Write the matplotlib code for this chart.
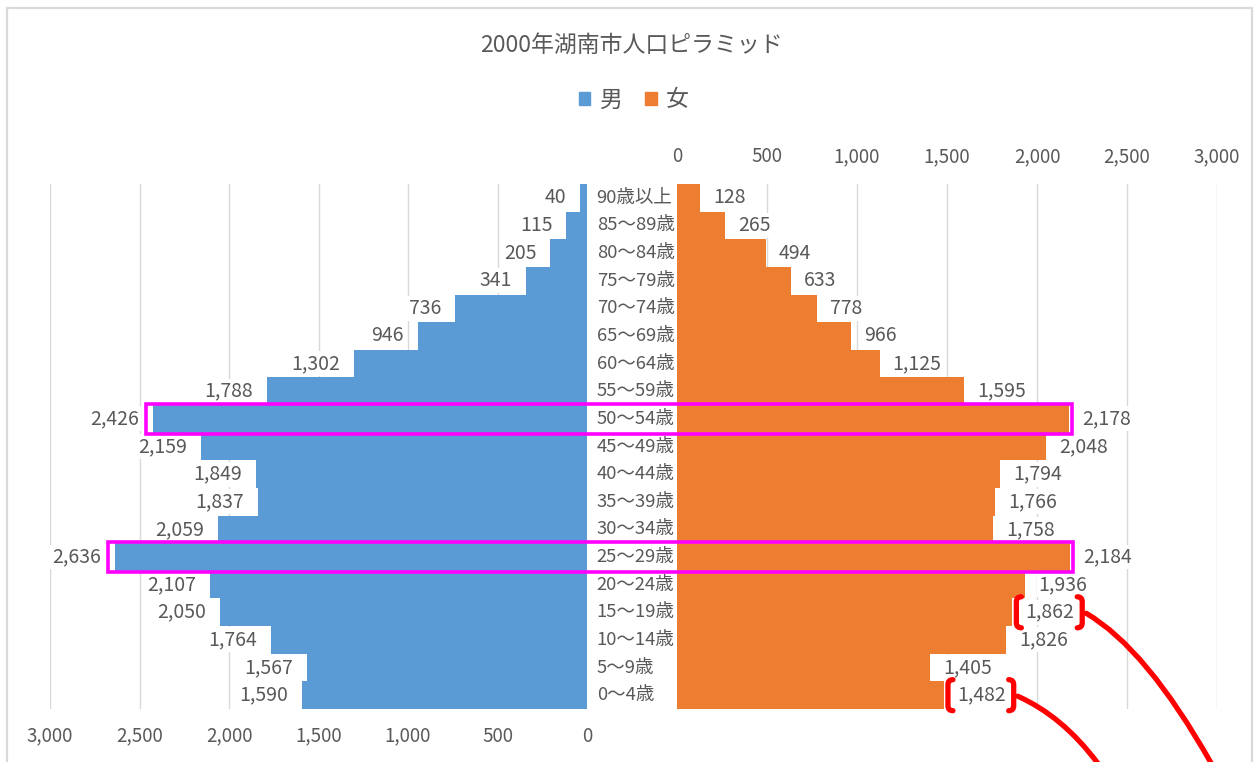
import matplotlib
matplotlib.use('Agg')
import matplotlib.pyplot as plt
from matplotlib.patches import Rectangle, Patch, PathPatch
from matplotlib.path import Path
from matplotlib.ticker import FuncFormatter

plt.rcParams['font.family'] = ['Noto Sans CJK JP', 'DejaVu Sans']

# 年齢階級（下から上へ）
ages = ['0～4歳', '5～9歳', '10～14歳', '15～19歳', '20～24歳', '25～29歳',
        '30～34歳', '35～39歳', '40～44歳', '45～49歳', '50～54歳', '55～59歳',
        '60～64歳', '65～69歳', '70～74歳', '75～79歳', '80～84歳', '85～89歳',
        '90歳以上']
male = [1590, 1567, 1764, 2050, 2107, 2636, 2059, 1837, 1849, 2159,
        2426, 1788, 1302, 946, 736, 341, 205, 115, 40]
female = [1482, 1405, 1826, 1862, 1936, 2184, 1758, 1766, 1794, 2048,
          2178, 1595, 1125, 966, 778, 633, 494, 265, 128]
ticks = [0, 500, 1000, 1500, 2000, 2500, 3000]

boxed_rows = ['50～54歳', '25～29歳']
bracket_rows = ['15～19歳', '0～4歳']

BLUE = '#5B9BD5'
ORANGE = '#ED7D31'
TXT = '#595959'
GRID = '#D9D9D9'
W, H = 1255, 762

fig = plt.figure(figsize=(W / 100, H / 100), dpi=100)
fig.patch.set_facecolor('white')

bottom = 1 - 709 / H
height = (709 - 184) / H
ax_m = fig.add_axes([50 / W, bottom, (587 - 50) / W, height])
ax_f = fig.add_axes([677 / W, bottom, (1217 - 677) / W, height])

comma = FuncFormatter(lambda v, p: f'{int(v):,}')
y = list(range(len(ages)))

for ax, vals, col in [(ax_m, male, BLUE), (ax_f, female, ORANGE)]:
    ax.barh(y, vals, height=1.0, color=col, linewidth=0, zorder=2)
    ax.set_ylim(-0.5, len(ages) - 0.5)
    ax.set_xlim(0, 3000)
    ax.set_xticks(ticks)
    ax.xaxis.set_major_formatter(comma)
    ax.set_yticks([])
    ax.grid(axis='x', color=GRID, linewidth=1, zorder=0)
    ax.tick_params(axis='x', length=0, pad=12, labelsize=13.5, labelcolor=TXT)
    for s in ax.spines.values():
        s.set_visible(False)
    ax.set_facecolor('none')

ax_m.invert_xaxis()
ax_f.xaxis.tick_top()

label_box = dict(boxstyle='square,pad=0.1', fc='white', ec='none')
f_labels = {}
for i, (m, f) in enumerate(zip(male, female)):
    ax_m.annotate(f'{m:,}', xy=(m, i), xytext=(-10, 0), textcoords='offset points',
                  ha='right', va='center', fontsize=14, color=TXT,
                  bbox=label_box, zorder=4)
    f_labels[ages[i]] = ax_f.annotate(f'{f:,}', xy=(f, i), xytext=(9.5, 0),
                                      textcoords='offset points', ha='left',
                                      va='center', fontsize=14, color=TXT,
                                      bbox=label_box, zorder=4)
    ax_m.annotate(ages[i], xy=(1, i), xycoords=('axes fraction', 'data'),
                  xytext=(7, 0), textcoords='offset points', ha='left',
                  va='center', fontsize=13.3, color=TXT, annotation_clip=False)

fig.text(0.503, 1 - 45 / H, '2000年湖南市人口ピラミッド', ha='center', va='center',
         fontsize=16.5, color=TXT)
handles = [Patch(color=BLUE, label='男'), Patch(color=ORANGE, label='女')]
fig.legend(handles=handles, loc='center', bbox_to_anchor=(0.505, 1 - 100 / H),
           ncol=2, frameon=False, fontsize=16.5, labelcolor=TXT,
           handlelength=0.5, handleheight=0.5, handletextpad=0.4,
           columnspacing=1.0)

fig.canvas.draw()

# 注記用の重ね合わせ（ピクセル座標、上が0）
ov = fig.add_axes([0, 0, 1, 1], zorder=10)
ov.set_xlim(0, W)
ov.set_ylim(H, 0)
ov.axis('off')
ov.patch.set_alpha(0)


def to_px(ax, x, yv):
    dx, dy = ax.transData.transform((x, yv))
    return dx, H - dy


# 外枠
ov.plot([7, 7, 1252, 1252], [H + 5, 8, 8, H + 5], color=GRID, lw=1.6,
        solid_joinstyle='miter')

# 強調枠
for name in boxed_rows:
    i = ages.index(name)
    x0, yt = to_px(ax_m, male[i], i + 0.5)
    _, yb = to_px(ax_m, male[i], i - 0.5)
    x1, _ = to_px(ax_f, female[i], i)
    ov.add_patch(Rectangle((x0 - 7, yt - 1.5), (x1 + 3) - (x0 - 7), yb - yt + 3,
                           fill=False, ec='#FF00FF', lw=2.6, zorder=5))

# 括弧と引き出し線
renderer = fig.canvas.get_renderer()
curves = {'15～19歳': ((60, 35), (125, 150)), '0～4歳': ((45, 20), (80, 67))}
for name in bracket_rows:
    bb = f_labels[name].get_window_extent(renderer)
    xl, xr = bb.x0 - 9, bb.x1 + 8
    yc = H - (bb.y0 + bb.y1) / 2
    yt, yb = yc - 15.5, yc + 15.5
    hk = 5
    left = Path([(xl + hk, yt), (xl, yt), (xl, yt + hk), (xl, yb - hk), (xl, yb), (xl + hk, yb)],
                [Path.MOVETO, Path.CURVE3, Path.CURVE3, Path.LINETO, Path.CURVE3, Path.CURVE3])
    right = Path([(xr - hk, yt), (xr, yt), (xr, yt + hk), (xr, yb - hk), (xr, yb), (xr - hk, yb)],
                 [Path.MOVETO, Path.CURVE3, Path.CURVE3, Path.LINETO, Path.CURVE3, Path.CURVE3])
    for p in (left, right):
        ov.add_patch(PathPatch(p, fill=False, ec='#FF0000', lw=3.8, capstyle='round'))
    (cx, cy), (ex, ey) = curves[name]
    sx, sy = xr + 4, yc + 1
    arc = Path([(sx, sy), (sx + cx, sy + cy), (sx + ex, sy + ey)],
               [Path.MOVETO, Path.CURVE3, Path.CURVE3])
    ov.add_patch(PathPatch(arc, fill=False, ec='#FF0000', lw=3.8, capstyle='round'))

fig.savefig('out.png', dpi=100, facecolor='white')
